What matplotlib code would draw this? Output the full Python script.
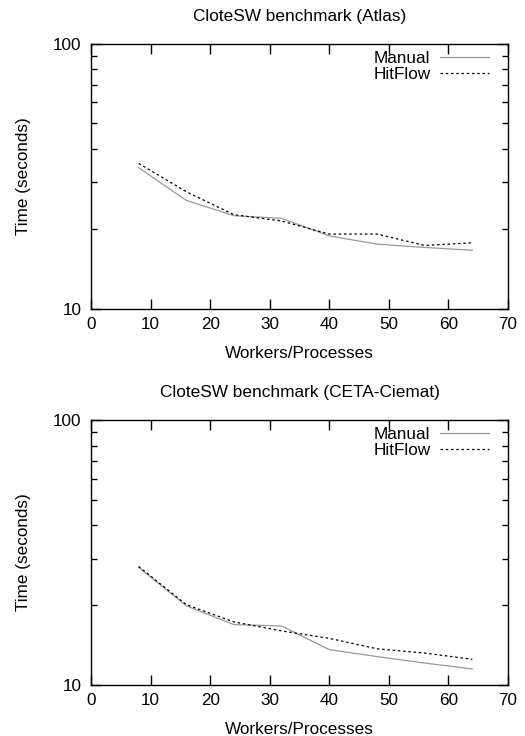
import numpy as np
import matplotlib
matplotlib.use('Agg')
import matplotlib.pyplot as plt
from matplotlib.ticker import FixedLocator, NullFormatter, FixedFormatter

plt.rcParams['font.family'] = ['Liberation Sans', 'DejaVu Sans']
plt.rcParams['font.size'] = 12.3

workers = [8, 16, 24, 32, 40, 48, 56, 64]
# Atlas
atlas_manual = [34.0, 25.6, 22.4, 21.9, 18.8, 17.5, 17.0, 16.6]
atlas_hitflow = [35.3, 27.6, 22.6, 21.4, 19.1, 19.1, 17.3, 17.7]
# CETA-Ciemat
ceta_manual = [27.8, 19.9, 16.9, 16.7, 13.6, 12.8, 12.1, 11.5]
ceta_hitflow = [28.0, 20.1, 17.3, 16.0, 15.0, 13.7, 13.2, 12.5]

panels = [
    ('CloteSW benchmark (Atlas)', atlas_manual, atlas_hitflow),
    ('CloteSW benchmark (CETA-Ciemat)', ceta_manual, ceta_hitflow),
]

fig = plt.figure(figsize=(5.25, 7.36), dpi=100)
axes = [fig.add_axes([0.1733, 0.5808, 0.7943, 0.3600]),
        fig.add_axes([0.1733, 0.0693, 0.7943, 0.3600])]

for ax, (title, manual, hitflow) in zip(axes, panels):
    ax.plot(workers, manual, color='#999999', lw=0.9, label='Manual')
    ax.plot(workers, hitflow, color='black', lw=0.9, linestyle=(0, (2.0, 2.2)), label='HitFlow')
    ax.set_yscale('log')
    ax.set_xlim(0, 70)
    ax.set_ylim(10, 100)
    ax.set_xticks(np.arange(0, 71, 10))
    ax.yaxis.set_major_locator(FixedLocator([10, 100]))
    ax.yaxis.set_major_formatter(FixedFormatter(['10', '100']))
    ax.yaxis.set_minor_locator(FixedLocator([20, 30, 40, 50, 60, 70, 80, 90]))
    ax.yaxis.set_minor_formatter(NullFormatter())
    ax.tick_params(axis='x', which='major', direction='in', length=7, width=1.0,
                   top=True, pad=6)
    ax.tick_params(axis='y', which='major', direction='in', length=7, width=1.0,
                   right=True, pad=7)
    ax.tick_params(axis='y', which='minor', direction='in', length=4, width=1.0,
                   right=True)
    for s in ax.spines.values():
        s.set_linewidth(1.0)
    ax.set_xlabel('Workers/Processes', labelpad=10)
    ax.set_ylabel('Time (seconds)', labelpad=16)
    ax.set_title(title, pad=16.5, fontsize=12.4)
    ax.legend(loc='upper right', bbox_to_anchor=(0.955, 0.972), frameon=False,
              markerfirst=False, handlelength=2.9, handletextpad=0.55,
              labelspacing=0.05, borderaxespad=0, borderpad=0)

fig.savefig('out.png', dpi=100)
